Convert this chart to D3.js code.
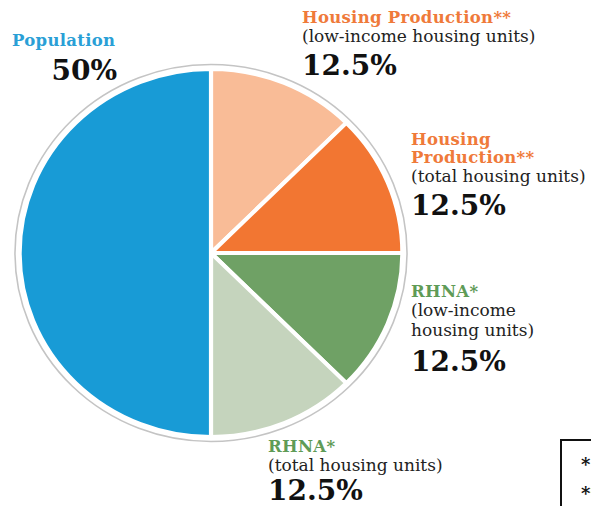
<!DOCTYPE html>
<html>
<head>
<meta charset="utf-8">
<script src="https://cdn.jsdelivr.net/npm/d3@7"></script>
<style>
  body { margin: 0; background: #fff; }
  svg { display: block; }
</style>
</head>
<body>
<svg id="chart" width="591" height="506"></svg>
<script>
// slices clockwise from 12 o'clock
const categories = ["Housing Production**", "Housing Production**", "RHNA*", "RHNA*", "Population"]
const subtitles = [["(low-income housing units)"], ["(total housing units)"], ["(low-income", "housing units)"], ["(total housing units)"], []]
const shares = [12.5, 12.5, 12.5, 12.5, 50]
const sliceColors = ["#f9bc97", "#f27632", "#6fa165", "#c5d4bd", "#189bd6"]
const titleColors = ["#ef7a3a", "#ef7a3a", "#5f9b57", "#5f9b57", "#2a9fd6"]
const footnotes = ["*", "**"]

// label layout (one per slice): anchor x, title baselines, pct baseline
const labelLayout = [
    { x: 302, lines: [23], sub: 42, pct: 75 },
    { x: 411, lines: [145, 163], sub: 182, pct: 215 },
    { x: 411, lines: [297], sub: 316, pct: 371 },
    { x: 268, lines: [452], sub: 471, pct: 500 },
    { x: 12, lines: [46], sub: 0, pct: 80, pctX: 117 }
]

const svg = d3.select("#chart")
const cx = 211, cy = 253, r = 184, sx = 1.04

const pie = d3.pie().sort(null).value(d => d)(shares)
const arc = d3.arc().innerRadius(0).outerRadius(r)

const g = svg.append("g").attr("transform", `translate(${cx},${cy}) scale(${sx},1)`)

g.append("circle").attr("r", r + 4.5)
    .attr("fill", "none").attr("stroke", "#c4c4c4").attr("stroke-width", 1.5)

g.selectAll("path.slice").data(pie).join("path")
    .attr("class", "slice")
    .attr("d", arc)
    .attr("fill", (d, i) => sliceColors[i])
    .attr("stroke", "#fff").attr("stroke-width", 4).attr("stroke-linejoin", "round")

const titleFont = "'DejaVu Serif', serif"

categories.forEach((c, i) => {
    const L = labelLayout[i]
    const words = L.lines.length > 1 ? c.split(" ") : [c]
    words.forEach((w, j) => {
        svg.append("text").attr("x", L.x).attr("y", L.lines[j])
            .attr("font-family", titleFont).attr("font-weight", "bold")
            .attr("font-size", 16.5).attr("fill", titleColors[i])
            .attr("letter-spacing", 0.3)
            .text(w)
    })
    subtitles[i].forEach((s, j) => {
        svg.append("text").attr("x", L.x).attr("y", L.sub + j * 20)
            .attr("font-family", titleFont).attr("font-size", 17)
            .attr("fill", "#222")
            .text(s)
    })
    svg.append("text")
        .attr("x", L.pctX || L.x).attr("y", L.pct)
        .attr("text-anchor", L.pctX ? "end" : "start")
        .attr("font-family", titleFont).attr("font-weight", "bold")
        .attr("font-size", 28).attr("fill", "#111")
        .text(d3.format(".3~")(shares[i]) + "%")
})

// footnote box (cut off at the right edge)
svg.append("rect").attr("x", 561).attr("y", 440).attr("width", 60).attr("height", 80)
    .attr("fill", "#fff").attr("stroke", "#111").attr("stroke-width", 2)
footnotes.forEach((f, i) => {
    svg.append("text").attr("x", 581).attr("y", 471 + i * 29).attr("font-family", titleFont)
        .attr("font-size", 18).attr("font-weight", "bold").attr("fill", "#111").text(f)
})
</script>
</body>
</html>
